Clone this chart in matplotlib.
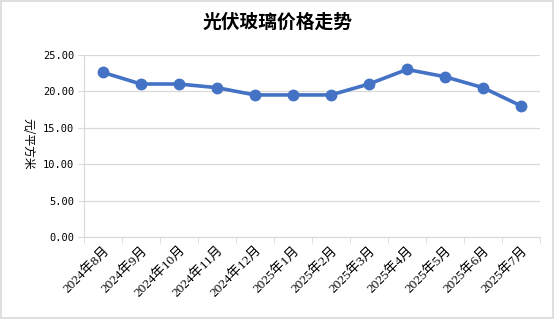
import numpy as np
import matplotlib
matplotlib.use("Agg")
import matplotlib.pyplot as plt
from matplotlib.patches import Rectangle

months = ["2024年8月", "2024年9月", "2024年10月", "2024年11月", "2024年12月",
          "2025年1月", "2025年2月", "2025年3月", "2025年4月", "2025年5月",
          "2025年6月", "2025年7月"]
price = [22.6, 21.0, 21.0, 20.5, 19.5, 19.5, 19.5, 21.0, 23.0, 22.0, 20.5, 18.0]
yticks = [0, 5, 10, 15, 20, 25]

FAM = ["Liberation Serif", "Noto Sans CJK SC"]
C_LINE = "#4472C4"
C_GRID = "#d9d9d9"

fig = plt.figure(figsize=(5.55, 3.19), dpi=100)
ax = fig.add_axes([0.151, 0.257, 0.822, 0.571])

x = np.arange(len(months))
ax.plot(x, price, color=C_LINE, lw=2.6, marker="o", ms=7.5,
        solid_capstyle="round", zorder=3)

ax.set_xlim(-0.5, len(months) - 0.5)
ax.set_ylim(0, 25)
ax.set_yticks(yticks)
ax.set_yticklabels([f"{v:.2f}" for v in yticks], family="DejaVu Sans Mono",
                   fontsize=7.5)
ax.yaxis.grid(True, color=C_GRID, lw=0.9)
ax.set_axisbelow(True)
ax.tick_params(axis="y", length=4, color=C_GRID, pad=3)

ax.set_xticks(x)
ax.set_xticklabels(months, rotation=45, ha="right", rotation_mode="anchor",
                   family=FAM, fontsize=9.5)
ax.tick_params(axis="x", length=0, pad=5)
ax.set_xticks(np.arange(-0.5, len(months)), minor=True)
ax.tick_params(axis="x", which="minor", length=4, color=C_GRID)

for s in ("top", "right"):
    ax.spines[s].set_visible(False)
ax.spines["left"].set_color(C_GRID)
ax.spines["bottom"].set_color(C_GRID)

fig.text(0.05, 0.55, "元/平方米", rotation=270, ha="center", va="center",
         family=["Noto Sans CJK SC", "DejaVu Sans"], fontsize=8.5)
fig.text(0.5, 0.93, "光伏玻璃价格走势", ha="center", va="center",
         family=["Noto Sans CJK SC"], fontsize=13.5, fontweight="bold")

fig.patches.append(Rectangle((0.002, 0.003), 0.995, 0.993,
                             transform=fig.transFigure, fill=False,
                             edgecolor="#d9d9d9", lw=1.2))

fig.savefig("out.png", dpi=100)
